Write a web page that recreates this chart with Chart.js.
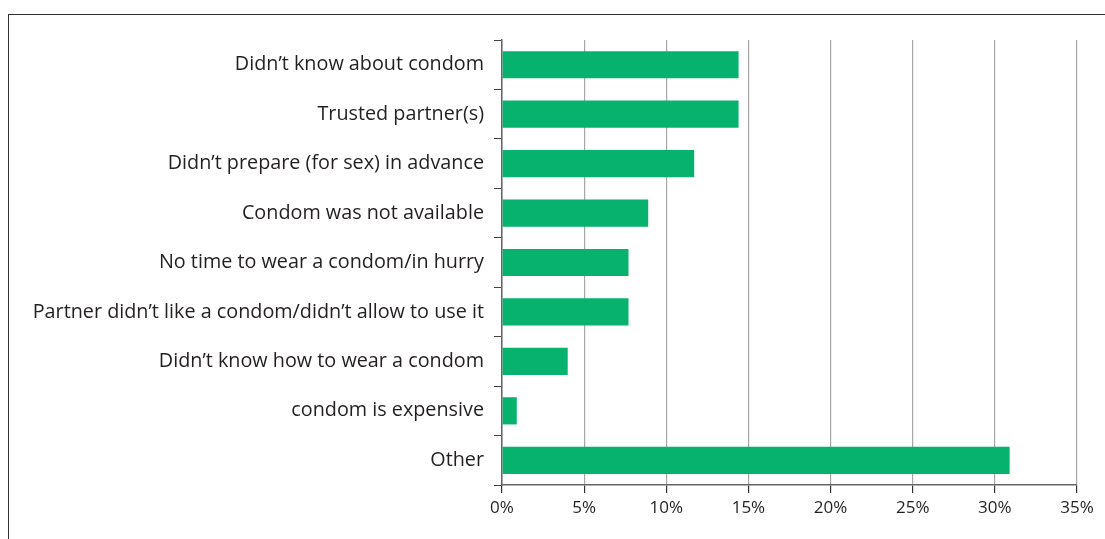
<!DOCTYPE html>
<html>
<head>
<meta charset="utf-8">
<script src="https://cdn.jsdelivr.net/npm/chart.js@4"></script>
<style>
  html, body { margin: 0; padding: 0; background: #fff; overflow: hidden; }
  .frame { position: absolute; left: 8px; top: 14px; width: 1200px; height: 600px;
           border-top: 1.5px solid #333; border-left: 1.5px solid #333; }
  .wrap { position: absolute; left: 0; top: 0; width: 1105px; height: 539px; }
</style>
</head>
<body>
<div class="frame"></div>
<div class="wrap"><canvas id="reasonsChart" width="1105" height="539"></canvas></div>
<script>
// ── data
const reasons = [
  'Didn’t know about condom',
  'Trusted partner(s)',
  'Didn’t prepare (for sex) in advance',
  'Condom was not available',
  'No time to wear a condom/in hurry',
  'Partner didn’t like a condom/didn’t allow to use it',
  'Didn’t know how to wear a condom',
  'condom is expensive',
  'Other',
];
const shares = [14.4, 14.4, 11.7, 8.9, 7.7, 7.7, 4.0, 0.9, 30.9];
const xTicks = [0, 5, 10, 15, 20, 25, 30, 35];

const GREEN = '#06b26e';
const TEXT  = '#231f20';

Chart.defaults.font.family = "'Open Sans', sans-serif";
Chart.defaults.color = TEXT;

new Chart(document.getElementById('reasonsChart'), {
  type: 'bar',
  data: {
    labels: reasons,
    datasets: [{
      data: shares,
      backgroundColor: GREEN,
      borderWidth: 0,
      barPercentage: 0.55,
      categoryPercentage: 1,
    }],
  },
  options: {
    indexAxis: 'y',
    responsive: false,
    animation: false,
    layout: { padding: { top: 40, right: 28, bottom: 0, left: 0 } },
    plugins: { legend: { display: false }, tooltip: { enabled: false } },
    scales: {
      x: {
        min: 0, max: 35,
        afterBuildTicks: s => { s.ticks = xTicks.map(v => ({ value: v })); },
        afterFit: s => { s.height = 54; },
        grid: { color: '#a6a6a6', lineWidth: 1.2, tickColor: '#333', tickLength: 8 },
        border: { color: '#666', width: 1.5 },
        ticks: { font: { size: 17 }, color: TEXT, padding: 5, callback: v => v + '%' },
      },
      y: {
        afterFit: s => { s.width = 502; },
        grid: { drawOnChartArea: false, color: '#444', tickLength: 8, offset: true },
        border: { color: '#666', width: 1.5 },
        ticks: { font: { size: 19.8 }, color: TEXT, padding: 10, autoSkip: false },
      },
    },
  },
});
</script>
</body>
</html>
